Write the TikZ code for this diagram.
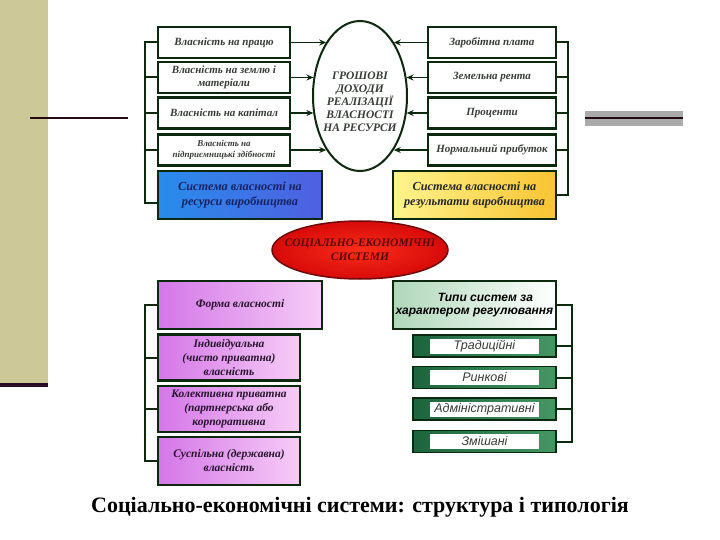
\documentclass[tikz,border=0pt]{standalone}
\usepackage{fontspec}
\setmainfont{Liberation Serif}
\newfontfamily\sansf{Liberation Sans}
\usetikzlibrary{arrows.meta,shapes.geometric,calc}
\definecolor{bord}{RGB}{12,40,14}
\definecolor{olive}{RGB}{204,200,152}
\definecolor{stripline}{RGB}{42,12,42}
\definecolor{hline}{RGB}{36,12,18}
\definecolor{graybar}{RGB}{170,170,170}
\definecolor{txtgray}{RGB}{55,60,55}
\definecolor{navy}{RGB}{22,36,100}
\definecolor{maroon}{RGB}{90,8,8}
\definecolor{ptxt}{RGB}{40,20,45}
\definecolor{gdark}{RGB}{28,100,60}
\definecolor{glight}{RGB}{70,150,100}
\begin{document}
\begin{tikzpicture}[x=1pt,y=-1pt,
  topbox/.style={draw=bord, line width=2.5pt, fill=white, minimum width=132pt, minimum height=31pt,
    inner sep=1pt, align=center, text=txtgray,
    font=\fontsize{11}{12.5}\selectfont\bfseries\itshape},
  bluebox/.style={draw=bord, line width=2.5pt, minimum width=164pt, minimum height=48pt, align=center,
    left color={rgb,255:red,40;green,140;blue,235}, middle color={rgb,255:red,30;green,190;blue,240},
    right color={rgb,255:red,80;green,95;blue,225}, text=navy,
    font=\fontsize{12.3}{15}\selectfont\bfseries\itshape},
  yellowbox/.style={draw=bord, line width=2.5pt, minimum width=163pt, minimum height=48pt, align=center,
    left color={rgb,255:red,255;green,244;blue,140}, right color={rgb,255:red,248;green,196;blue,50},
    text=black!85, font=\fontsize{12.3}{15}\selectfont\bfseries\itshape},
  pbox/.style={draw=bord, line width=2.5pt, align=center, inner sep=0pt,
    left color={rgb,255:red,212;green,118;blue,232}, right color={rgb,255:red,246;green,205;blue,246},
    text=ptxt, font=\fontsize{11.5}{14}\selectfont\bfseries\itshape},
  tbox/.style={draw=bord, line width=2.5pt, minimum width=163pt, minimum height=48pt, align=center,
    inner sep=0pt, left color={rgb,255:red,175;green,215;blue,185}, right color=white,
    text=black, font=\sansf\fontsize{12}{13}\selectfont\bfseries\itshape},
  gbox/.style={draw=bord, line width=1.5pt, minimum width=143pt, minimum height=22pt,
    left color=gdark, right color=glight, inner sep=0pt},
  gin/.style={fill=white, minimum width=109pt, minimum height=15pt, inner sep=0pt,
    text=txtgray, font=\sansf\fontsize{12.5}{13}\selectfont\itshape},
  brk/.style={draw=bord, line width=2pt},
  arr/.style={draw=bord, line width=1.8pt, -{Stealth[length=7pt,width=6pt]}}
]
\useasboundingbox (0,0) rectangle (720,540);

% decorations
\fill[olive] (0,0) rectangle (48,383);
\fill[stripline] (0,383) rectangle (48,387);
\draw[hline, line width=2pt] (30,118) -- (128,118);
\fill[graybar] (585,111) rectangle (683,126);
\draw[hline, line width=2pt] (585,118.5) -- (683,118.5);

% central ellipse
\node[ellipse, draw=bord, line width=2pt, fill=white, minimum width=94pt, minimum height=150pt,
  inner sep=0pt] (ell) at (360,96) {};
\node[align=center, text=txtgray, inner sep=0pt,
  font=\fontsize{11.5}{13}\selectfont\bfseries\itshape] (ellt) at (360,102)
  {ГРОШОВІ\\ДОХОДИ\\РЕАЛІЗАЦІЇ\\ВЛАСНОСТІ\\НА РЕСУРСИ};

% left top boxes
\node[topbox] (l1) at (224,42.5) {Власність на працю};
\node[topbox] (l2) at (224,77.5) {Власність на землю і\\матеріали};
\node[topbox] (l3) at (224,113) {Власність на капітал};
\node[topbox, font=\fontsize{9}{11}\selectfont\bfseries\itshape] (l4) at (224,150) {Власність на\\підприємницькі здібності};
\node[bluebox] (lb) at (240,195) {Система власності на\\ресурси виробництва};

% right top boxes
\node[topbox, minimum width=128pt] (r1) at (492,42.5) {Заробітна плата};
\node[topbox, minimum width=128pt] (r2) at (492,77.5) {Земельна рента};
\node[topbox, minimum width=128pt] (r3) at (492,113) {Проценти};
\node[topbox, minimum width=128pt] (r4) at (492,150) {Нормальний прибуток};
\node[yellowbox] (rb) at (474.5,195) {Система власності на\\результати виробництва};

% arrows into ellipse
\draw[arr] (l1.east) -- (l1.east -| ell.122);
\draw[arr] (l2.east) -- (l2.east -| ell.158);
\draw[arr] (l3.east) -- (l3.east -| ell.201);
\draw[arr] (l4.east) -- (l4.east -| ell.238);
\draw[arr] (r1.west) -- (r1.west -| ell.58);
\draw[arr] (r2.west) -- (r2.west -| ell.22);
\draw[arr] (r3.west) -- (r3.west -| ell.339);
\draw[arr] (r4.west) -- (r4.west -| ell.302);

% top brackets
\coordinate (lx) at (145,0);
\coordinate (rx) at (568,0);
\coordinate (lbt) at ([yshift=-8pt]lb.west);
\draw[brk] (l1.west) -- (lx |- l1.west) -- (lx |- lbt) -- (lbt);
\foreach \n in {l2,l3,l4} \draw[brk] (\n.west) -- (lx |- \n.west);
\draw[brk] (r1.east) -- (rx |- r1.east) -- (rx |- rb.east) -- (rb.east);
\foreach \n in {r2,r3,r4} \draw[brk] (\n.east) -- (rx |- \n.east);

% red ellipse
\node[ellipse, draw={rgb,255:red,110;green,10;blue,10}, line width=1.5pt, minimum width=176pt, minimum height=58pt,
  inner sep=0pt, shading=radial, inner color={rgb,255:red,250;green,45;blue,25},
  outer color={rgb,255:red,215;green,10;blue,10}] (se) at (360,250) {};
\node[align=center, text=maroon, inner sep=0pt,
  font=\fontsize{11.5}{14}\selectfont\bfseries\itshape] (set) at (360,250)
  {СОЦІАЛЬНО-ЕКОНОМІЧНІ\\СИСТЕМИ};

% bottom left
\node[pbox, minimum width=164pt, minimum height=48pt] (pf) at (240,305) {Форма власності};
\node[pbox, minimum width=142pt, minimum height=46pt] (p1) at (229,357.5) {Індивідуальна\\(чисто приватна)\\власність};
\node[pbox, minimum width=142pt, minimum height=46pt] (p2) at (229,409) {Колективна приватна\\(партнерська або\\корпоративна};
\node[pbox, minimum width=142pt, minimum height=48pt] (p3) at (229,461) {Суспільна (державна)\\власність};
\coordinate (lx2) at (145,0);
\draw[brk] (pf.west) -- (lx2 |- pf.west) -- (lx2 |- p3.west) -- (p3.west);
\foreach \n in {p1,p2} \draw[brk] (\n.west) -- (lx2 |- \n.west);

% bottom right
\node[tbox] (tt) at (474.5,305) {\hspace*{22pt}Типи систем за\\характером регулювання};
\node[gbox] (g1) at (484.5,346) {};
\node[gin] (g1t) at (g1) {Традиційні};
\node[gbox] (g2) at (484.5,377.5) {};
\node[gin] (g2t) at (g2) {Ринкові};
\node[gbox] (g3) at (484.5,409) {};
\node[gin] (g3t) at (g3) {Адміністративні};
\node[gbox] (g4) at (484.5,441.5) {};
\node[gin] (g4t) at (g4) {Змішані};
\coordinate (rx2) at (572,0);
\draw[brk] (tt.east) -- (rx2 |- tt.east) -- (rx2 |- g4.east) -- (g4.east);
\foreach \n in {g1,g2,g3} \draw[brk] (\n.east) -- (rx2 |- \n.east);

% caption
\node[font=\fontsize{22}{24}\selectfont\bfseries] (cap) at (360,507) {Соціально-економічні системи: структура і типологія};
\end{tikzpicture}
\end{document}
